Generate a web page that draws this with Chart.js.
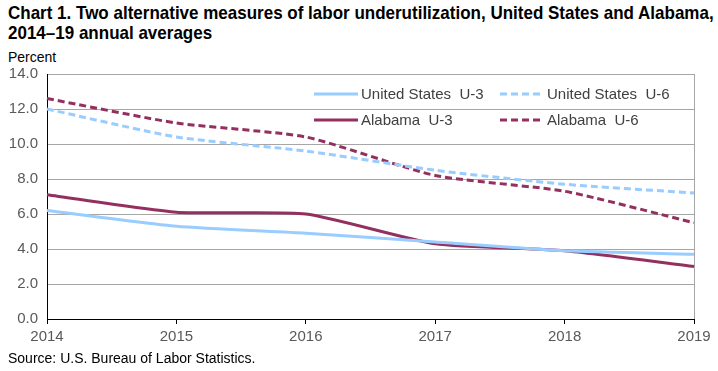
<!DOCTYPE html>
<html>
<head>
<meta charset="utf-8">
<script src="https://cdn.jsdelivr.net/npm/chart.js@4.4.1/dist/chart.umd.min.js"></script>
<style>
  body { margin: 0; width: 718px; height: 371px; position: relative; background: #fff; overflow: hidden;
         font-family: "Liberation Sans", Arial, sans-serif; }
  #title { position: absolute; left: 8px; top: 3px; font-weight: bold; font-size: 17px; line-height: 18px; color: #000;
           transform: scaleY(1.12); transform-origin: 0 0; white-space: nowrap; }
  #unit { position: absolute; left: 8px; top: 48px; font-size: 14px; color: #000; transform: scaleY(1.1); transform-origin: 0 0; }
  #source { position: absolute; left: 8px; top: 349px; font-size: 14px; color: #000; transform: scaleY(1.1); transform-origin: 0 0; }
  #wrap { position: absolute; left: 0; top: 0; width: 718px; height: 371px; }
</style>
</head>
<body>
<div id="title">Chart 1. Two alternative measures of labor underutilization, United States and Alabama,<br>2014–19 annual averages</div>
<div id="unit">Percent</div>
<div id="wrap"><canvas id="chart"></canvas></div>
<div id="source">Source: U.S. Bureau of Labor Statistics.</div>
<script>
// data
const years = ['2014', '2015', '2016', '2017', '2018', '2019'];
const usU3 = [6.2, 5.3, 4.9, 4.4, 3.9, 3.7];
const usU6 = [12.0, 10.4, 9.6, 8.5, 7.7, 7.2];
const alU3 = [7.1, 6.1, 6.0, 4.3, 3.9, 3.0];
const alU6 = [12.6, 11.2, 10.4, 8.2, 7.3, 5.5];

const blue = '#99ccff';
const maroon = '#93305f';

// legend drawn inside the plot area, two columns
const insideLegend = {
    id: 'insideLegend',
    afterDatasetsDraw(chart) {
        const ctx = chart.ctx;
        const spots = [[314, 94], [500, 94], [314, 120], [500, 120]];
        chart.data.datasets.forEach((ds, i) => {
            const [x, y] = spots[i];
            ctx.save();
            ctx.strokeStyle = ds.borderColor;
            ctx.lineWidth = 3;
            ctx.setLineDash(ds.borderDash || []);
            ctx.beginPath();
            ctx.moveTo(x, y);
            ctx.lineTo(x + 44, y);
            ctx.stroke();
            ctx.setLineDash([]);
            ctx.fillStyle = '#404040';
            ctx.font = '15px "Liberation Sans", Arial, sans-serif';
            ctx.textBaseline = 'middle';
            ctx.fillText(ds.label, x + 47, y + 1);
            ctx.restore();
        });
    }
};

const mkLine = (label, data, color, dashed) => ({
    label, data,
    borderColor: color, backgroundColor: color,
    borderWidth: 3, borderDash: dashed ? [7, 4] : [],
    pointRadius: 0, tension: 0.2, fill: false
});

new Chart(document.getElementById('chart').getContext('2d'), {
    type: 'line',
    data: {
        labels: years,
        datasets: [
            mkLine('United States  U-3', usU3, blue, false),
            mkLine('United States  U-6', usU6, blue, true),
            mkLine('Alabama  U-3', alU3, maroon, false),
            mkLine('Alabama  U-6', alU6, maroon, true)
        ]
    },
    options: {
        responsive: true, maintainAspectRatio: false, animation: false,
        layout: { padding: { top: 74, right: 24, bottom: 0, left: 0 } },
        plugins: { legend: { display: false }, tooltip: { enabled: false } },
        scales: {
            x: {
                offset: false,
                afterFit: s => { s.height = 52; },
                grid: {
                    color: c => c.index === years.length - 1 ? '#a6a6a6' : 'rgba(0,0,0,0)',
                    tickColor: '#000', tickLength: 5, lineWidth: 1
                },
                border: { color: '#000', width: 1 },
                ticks: { color: '#595959', font: { size: 15, family: '"Liberation Sans", Arial' }, padding: 4, maxRotation: 0 }
            },
            y: {
                min: 0, max: 14,
                afterFit: s => { s.width = 47; },
                grid: { color: '#a6a6a6', drawTicks: false },
                border: { color: '#000', width: 1 },
                ticks: {
                    stepSize: 2, padding: 9, color: '#595959',
                    font: { size: 15, family: '"Liberation Sans", Arial' },
                    callback: v => v.toFixed(1)
                }
            }
        }
    },
    plugins: [insideLegend]
});
</script>
</body>
</html>
